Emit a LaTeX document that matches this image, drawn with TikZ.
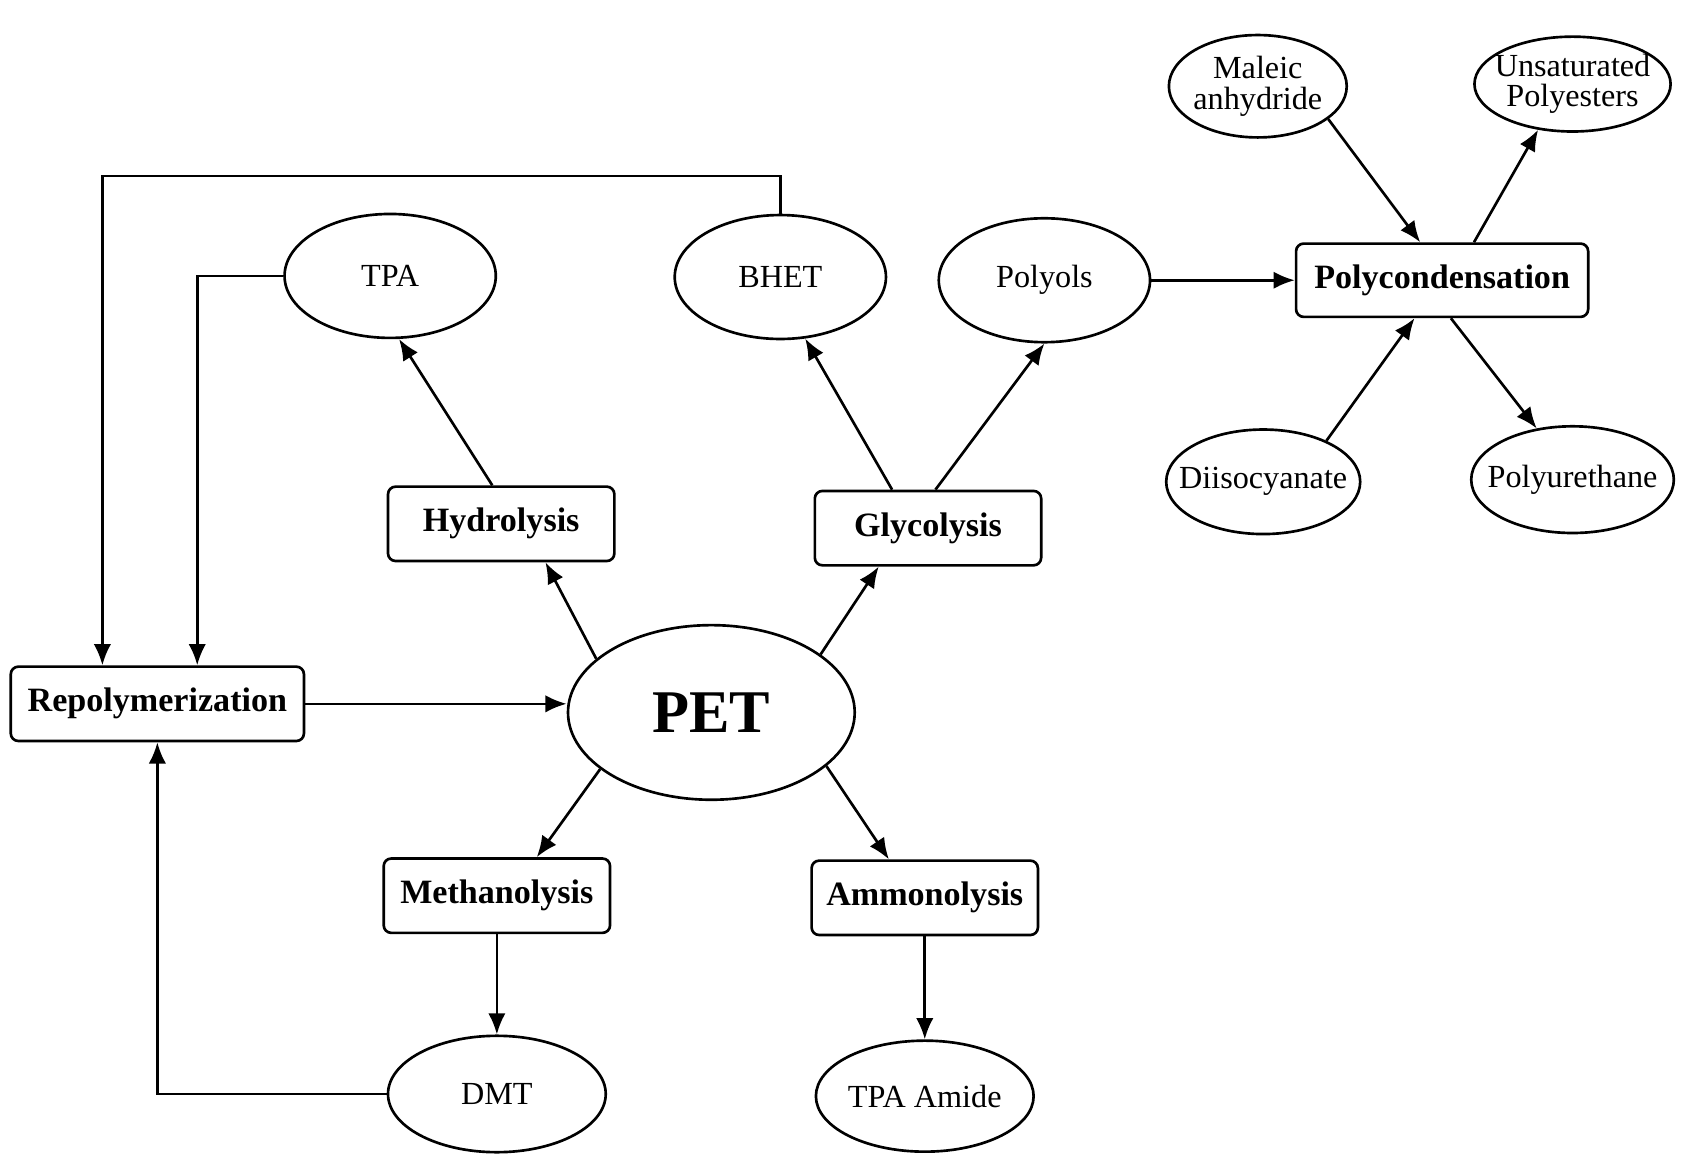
\documentclass[tikz,border=0pt]{standalone}
\usepackage{fontspec}
\setmainfont{Liberation Serif}
\usetikzlibrary{arrows.meta,positioning,shapes.geometric}

\begin{document}
\begin{tikzpicture}[>={Latex[length=5.6pt,width=4.6pt]},node distance=2cm,on grid,line width=0.7pt,
    proc/.style={draw,rounded corners=2pt,minimum width=2.1cm,minimum height=0.69cm,inner sep=0pt,
      font=\fontsize{9}{10}\selectfont\bfseries},
    prod/.style={draw,ellipse,minimum width=1.96cm,minimum height=1.15cm,inner sep=-0.3cm,align=center,
      font=\fontsize{8.5}{8}\selectfont}]
  \useasboundingbox (0,0) rectangle (15.68,-10.70);

  % recycling routes around PET
  \node[prod,minimum width=2.66cm,minimum height=1.62cm,font=\fontsize{16}{18}\selectfont\bfseries] (pet) at (6.60,-6.61) {PET};
  \node[proc] (hyd) [above left=1.75cm and 1.95cm of pet] {Hydrolysis};
  \node[proc] (gly) [above right=1.71cm and 2.01cm of pet] {Glycolysis};
  \node[proc] (meth) [below left=1.70cm and 1.99cm of pet] {Methanolysis};
  \node[proc] (amm) [below right=1.72cm and 1.98cm of pet] {Ammonolysis};
  \node[proc,minimum width=2.72cm] (repol) [above left=0.08cm and 5.14cm of pet] {Repolymerization};

  % products
  \node[prod] (tpa) [above left=2.30cm and 1.03cm of hyd] {TPA};
  \node[prod] (bhet) [above left=2.33cm and 1.37cm of gly] {BHET};
  \node[prod] (polyols) [above right=2.30cm and 1.08cm of gly] {Polyols};
  \node[prod,minimum width=2.02cm,minimum height=1.08cm] (dmt) [below=1.84cm of meth] {DMT};
  \node[prod,minimum width=2.02cm,minimum height=1.03cm] (amide) [below=1.84cm of amm] {TPA Amide};

  % polycondensation
  \node[proc,minimum width=2.71cm,minimum height=0.68cm] (pcond) [right=3.69cm of polyols] {Polycondensation};
  \node[prod,minimum width=1.65cm,minimum height=0.95cm] (maleic) [above left=1.80cm and 1.71cm of pcond] {Maleic\\anhydride};
  \node[prod,minimum width=1.82cm,minimum height=0.88cm] (unsat) [above right=1.82cm and 1.21cm of pcond] {Unsaturated\\Polyesters};
  \node[prod,minimum width=1.80cm,minimum height=0.97cm] (diiso) [below left=1.87cm and 1.66cm of pcond] {Diisocyanate};
  \node[prod,minimum width=1.88cm,minimum height=0.99cm] (pur) [below right=1.85cm and 1.21cm of pcond] {Polyurethane};

  \path[->]
    (repol.east) edge (repol.east -| pet.west)
    (pet.155) edge (hyd.-41)
    (pet.28) edge (gly.218)
    (pet.207) edge (meth.44)
    (pet.-25) edge (amm.133)
    (hyd.103) edge (tpa.-82)
    (gly.133) edge (bhet.-68)
    (gly.79) edge (polyols.south)
    (polyols) edge (pcond)
    (maleic.-25) edge (pcond.120)
    (pcond.50) edge (unsat.-127)
    (diiso.33) edge (pcond.234)
    (pcond.-77) edge (pur.125)
    (meth) edge (dmt)
    (amm) edge (amide);

  % feedback to repolymerization
  \draw[->] (dmt) -| (repol);
  \draw[->] (tpa.west) -| ([xshift=0.37cm]repol.north);
  \draw[->] (bhet.north) -- ++(0,0.35) -| ([xshift=-0.51cm]repol.north);
\end{tikzpicture}
\end{document}
